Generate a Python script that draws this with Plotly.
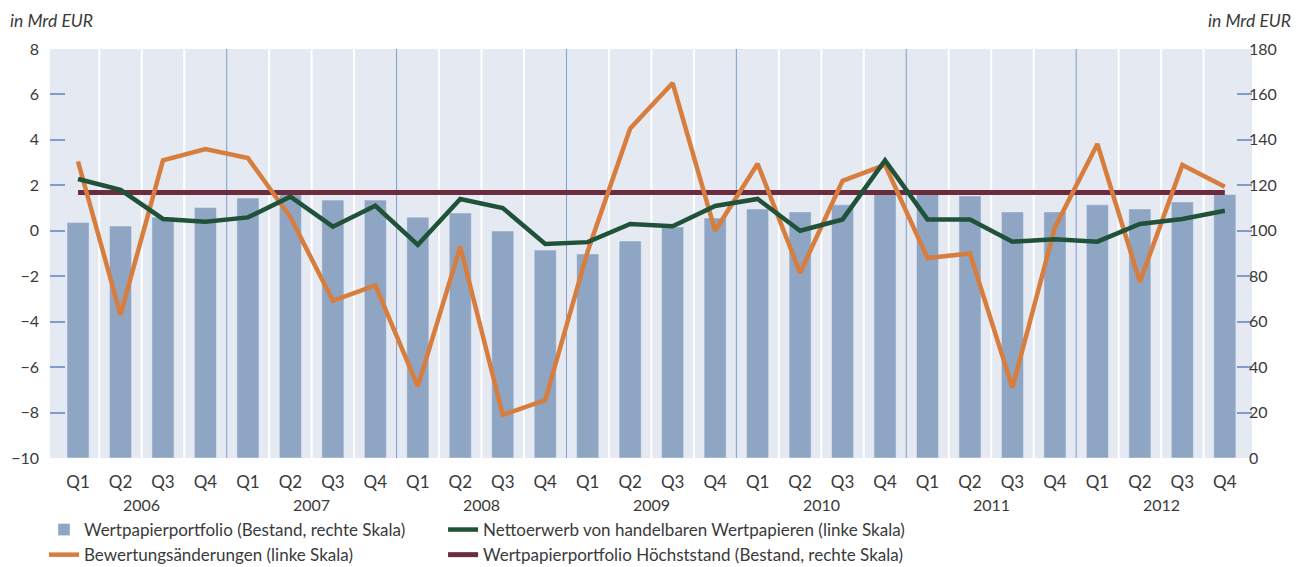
import plotly.graph_objects as go

# Quartale 2006 Q1 - 2012 Q4
years = ["2006", "2007", "2008", "2009", "2010", "2011", "2012"]
quarters = ["Q1", "Q2", "Q3", "Q4"]
quarter_labels = quarters * len(years)

# Wertpapierportfolio (Bestand, rechte Skala), in Mrd EUR
portfolio = [103.6, 102.1, 106.0, 110.2, 114.4, 116.0, 113.5, 113.5,
             106.0, 107.8, 99.9, 91.5, 89.8, 95.5, 101.7, 105.6,
             109.6, 108.3, 111.4, 116.0, 116.0, 115.3, 108.3, 108.3,
             111.4, 109.6, 112.7, 116.0]

# Bewertungsaenderungen (linke Skala)
bewertung = [3.05, -3.7, 3.1, 3.6, 3.2, 0.6, -3.08, -2.4,
             -6.85, -0.7, -8.1, -7.45, -0.9, 4.5, 6.5, 0.0,
             2.95, -1.85, 2.2, 2.9, -1.2, -1.0, -6.9, 0.15,
             3.82, -2.25, 2.9, 1.94]

# Nettoerwerb von handelbaren Wertpapieren (linke Skala)
nettoerwerb = [2.28, 1.8, 0.52, 0.4, 0.59, 1.5, 0.18, 1.1,
               -0.62, 1.4, 1.0, -0.58, -0.5, 0.3, 0.2, 1.09,
               1.4, 0.0, 0.5, 3.1, 0.5, 0.5, -0.48, -0.37,
               -0.48, 0.3, 0.52, 0.88]

# Wertpapierportfolio Hoechststand (rechte Skala)
hoechststand = [116.8] * len(portfolio)

xs = list(range(len(portfolio)))

BAR = "#8fa5c4"
ORANGE = "#d77d3e"
GREEN = "#1f5238"
MAROON = "#6b2c3e"
BG = "#e5eaf2"
TICK = "#7f9ccb"
TXT = "#3a3a3a"
FONT = "Lato"

W, H = 1294, 559          # Seite hat 8px Rand
PW = W - 42 - 50          # Breite der Zeichenflaeche
PH = H - 41 - 109

fig = go.Figure()

# rechte Skala = Basisachse "y", damit die Balken unter den Linien liegen
fig.add_trace(go.Bar(x=xs, y=portfolio, yaxis="y", marker_color=BAR,
                     width=0.52, name="Wertpapierportfolio (Bestand, rechte Skala)",
                     legend="legend", legendrank=1))
fig.add_trace(go.Scatter(x=xs, y=hoechststand, yaxis="y", mode="lines",
                         line=dict(color=MAROON, width=5),
                         name="Wertpapierportfolio Höchststand (Bestand, rechte Skala)",
                         legend="legend2", legendrank=2))
fig.add_trace(go.Scatter(x=xs, y=bewertung, yaxis="y2", mode="lines",
                         line=dict(color=ORANGE, width=4.5),
                         name="Bewertungsänderungen (linke Skala)",
                         legend="legend", legendrank=2))
fig.add_trace(go.Scatter(x=xs, y=nettoerwerb, yaxis="y2", mode="lines",
                         line=dict(color=GREEN, width=4.5),
                         name="Nettoerwerb von handelbaren Wertpapieren (linke Skala)",
                         legend="legend2", legendrank=1))

# Trennlinien zwischen den Quartalen (weiss) und Jahren (blau)
shapes = []
for i in range(len(xs) - 1):
    year_end = (i + 1) % 4 == 0
    shapes.append(dict(type="line", xref="x", yref="paper", x0=i + 0.5, x1=i + 0.5,
                       y0=0, y1=1, layer="below",
                       line=dict(color=TICK if year_end else "white",
                                 width=1 if year_end else 2)))

annotations = []
for k, yr in enumerate(years):
    annotations.append(dict(text=yr, x=4 * k + 1.5, xref="x", y=-46 / PH, yref="paper",
                            showarrow=False, yanchor="middle",
                            font=dict(size=16, color=TXT, family=FONT)))
annotations.append(dict(text="<i>in Mrd EUR</i>", x=-42 / PW, xref="paper",
                        xanchor="left", y=1 + 29 / PH, yref="paper", yanchor="middle",
                        showarrow=False, font=dict(size=17.5, color=TXT, family=FONT)))
annotations.append(dict(text="<i>in Mrd EUR</i>", x=1 + 41 / PW, xref="paper",
                        xanchor="right", y=1 + 29 / PH, yref="paper", yanchor="middle",
                        showarrow=False, font=dict(size=17.5, color=TXT, family=FONT)))

fig.update_layout(
    width=W, height=H,
    margin=dict(l=42, r=50, t=41, b=109, autoexpand=False),
    paper_bgcolor="white", plot_bgcolor=BG,
    font=dict(family=FONT, size=16, color=TXT),
    showlegend=True,
    xaxis=dict(range=[-0.66, 27.64], tickvals=xs, ticktext=quarter_labels,
               showgrid=False, zeroline=False, showline=False, ticks="",
               ticklabelstandoff=12, tickfont=dict(size=17), fixedrange=True),
    yaxis=dict(range=[0, 180], dtick=20, side="right",
               showgrid=False, zeroline=False, ticks="inside", ticklen=15,
               tickwidth=2, tickcolor=TICK, showline=False, ticklabelstandoff=-4),
    yaxis2=dict(range=[-10, 8], dtick=2, overlaying="y", side="left",
                showgrid=False, zeroline=False,
                ticks="inside", ticklen=15, tickwidth=2, tickcolor=TICK,
                showline=False, ticklabelstandoff=10),
    legend=dict(x=-6 / PW, y=-54 / PH, xanchor="left", yanchor="top", orientation="v",
                font=dict(size=17, color=TXT, family=FONT), bgcolor="rgba(0,0,0,0)",
                itemwidth=30, tracegroupgap=0, traceorder="normal"),
    legend2=dict(x=0.327, y=-54 / PH, xanchor="left", yanchor="top", orientation="v",
                 font=dict(size=17, color=TXT, family=FONT), bgcolor="rgba(0,0,0,0)",
                 itemwidth=30, tracegroupgap=0, traceorder="normal"),
    shapes=shapes,
    annotations=annotations,
)

fig.write_html("out.html")
